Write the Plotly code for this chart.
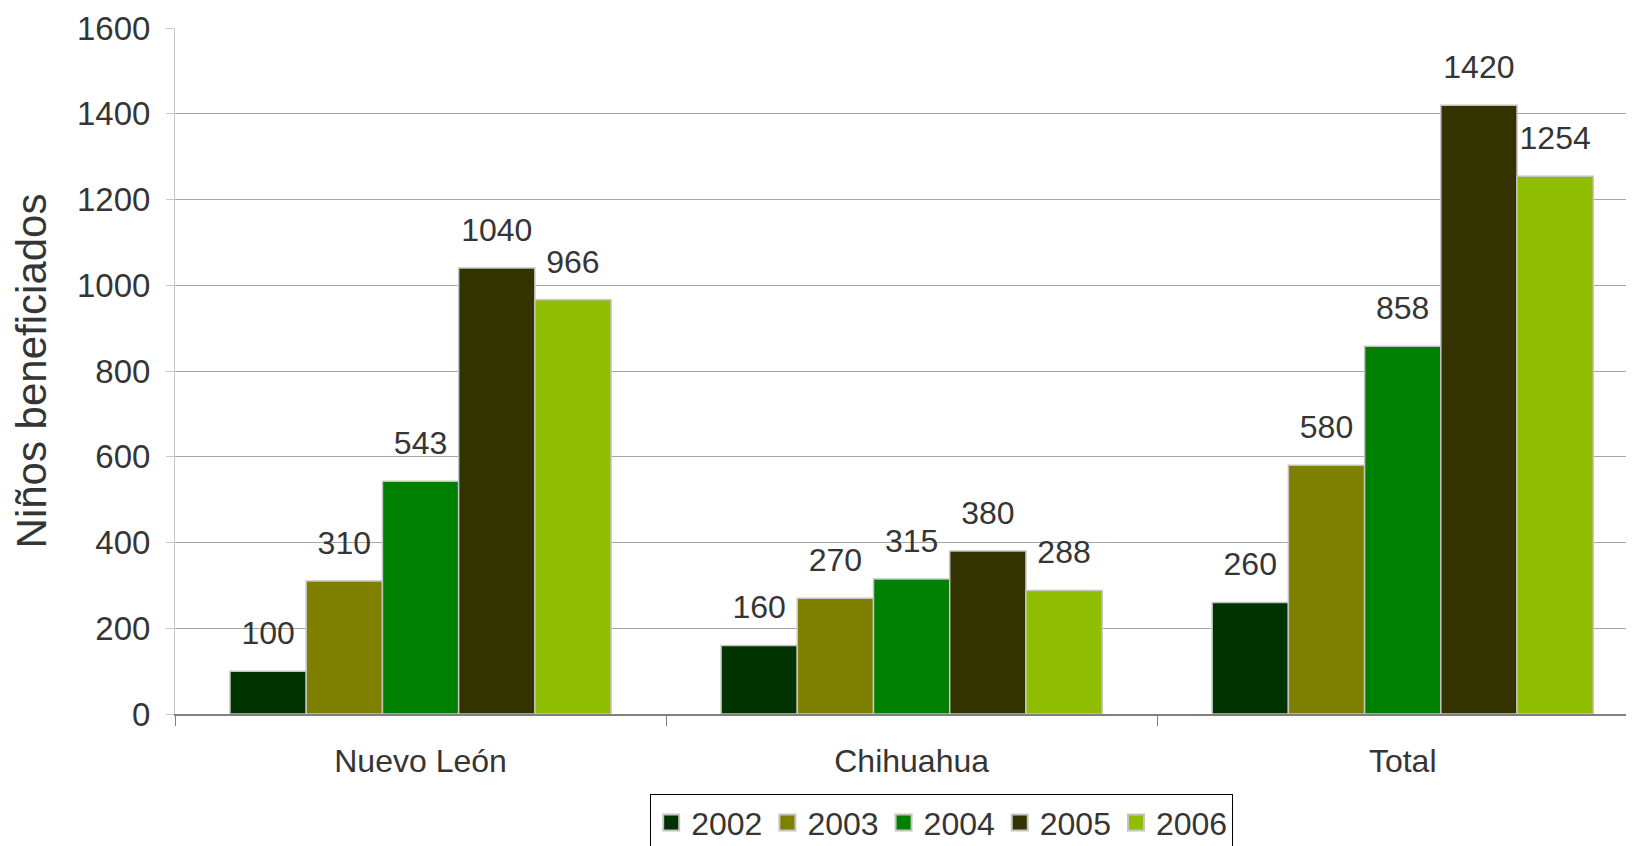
import plotly.graph_objects as go

categories = ["Nuevo León", "Chihuahua", "Total"]
years = ["2002", "2003", "2004", "2005", "2006"]
values_2002 = [100, 160, 260]
values_2003 = [310, 270, 580]
values_2004 = [543, 315, 858]
values_2005 = [1040, 380, 1420]
values_2006 = [966, 288, 1254]
series = [values_2002, values_2003, values_2004, values_2005, values_2006]
colors = ["#003300", "#808000", "#008000", "#333300", "#8fbe00"]
y_ticks = [0, 200, 400, 600, 800, 1000, 1200, 1400, 1600]

FONT = "Liberation Sans, Arial, sans-serif"
TXT = "#353535"
GAP = 0.224
EDGE = "#c4c4c4"

fig = go.Figure()
for yr, vals, col in zip(years, series, colors):
    fig.add_trace(go.Bar(
        x=categories, y=vals, name=yr, offsetgroup=yr, showlegend=False,
        marker=dict(color=col, line=dict(color=EDGE, width=1.5)),
    ))
for yr, vals in zip(years, series):
    fig.add_trace(go.Scatter(
        x=categories, y=vals, name=yr, offsetgroup=yr, showlegend=False,
        mode="markers+text", text=[str(v) for v in vals], textposition="top center",
        marker=dict(size=29, color="rgba(0,0,0,0)"),
        textfont=dict(family=FONT, size=32, color=TXT),
        cliponaxis=False, hoverinfo="skip",
    ))
# legend entries (square swatches with grey border)
for yr, col in zip(years, colors):
    fig.add_trace(go.Scatter(
        x=[None], y=[None], name=yr, offsetgroup=yr, mode="markers",
        marker=dict(symbol="square", size=17, color=col, line=dict(color=EDGE, width=2)),
    ))

# the page body has an 8px margin, so the figure is offset by 8px
fig.update_layout(
    width=1626, height=838,
    margin=dict(l=167, r=0, t=20, b=132, autoexpand=False),
    paper_bgcolor="white", plot_bgcolor="white",
    barmode="group", bargap=GAP, bargroupgap=0,
    scattermode="group", scattergap=GAP,
    font=dict(family=FONT, size=32, color=TXT),
    showlegend=True,
    legend=dict(orientation="h", x=0.5255, xanchor="center", y=-0.117, yanchor="top",
                bordercolor="#000000", borderwidth=1, font=dict(size=32, color=TXT),
                tracegroupgap=0, itemsizing="trace"),
)
fig.update_xaxes(
    type="category", range=[-0.5, 2.471],
    showline=True, linecolor="#808080", linewidth=2,
    ticks="outside", tickson="boundaries", ticklen=10, tickcolor="#808080",
    ticklabelstandoff=18,
    tickfont=dict(size=32, color=TXT), showgrid=False,
)
fig.update_yaxes(
    range=[0, 1600], tickvals=y_ticks, showgrid=True, gridcolor="#a6a6a6", gridwidth=1,
    showline=True, linecolor="#c8c8c8", linewidth=1,
    ticks="outside", ticklen=8, tickcolor="#c8c8c8", ticklabelstandoff=9,
    tickfont=dict(size=33, color=TXT), zeroline=False,
    title=dict(text="Niños beneficiados", font=dict(size=42, color=TXT), standoff=19),
)
fig.write_html("out.html")
